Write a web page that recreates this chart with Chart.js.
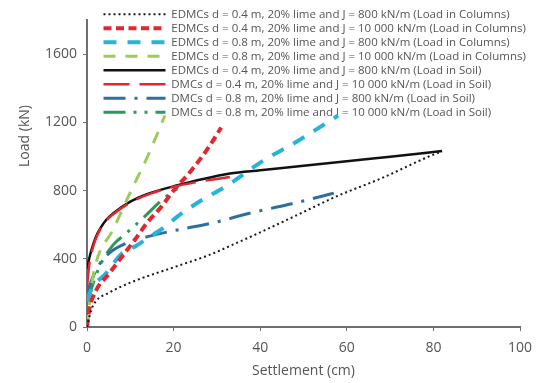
<!DOCTYPE html>
<html>
<head>
<meta charset="utf-8">
<title>Load - settlement</title>
<script src="https://cdn.jsdelivr.net/npm/chart.js@4.4.1/dist/chart.umd.min.js"></script>
<style>
  html, body { margin: 0; padding: 0; background: #fff; }
  #wrap { width: 544px; height: 383px; }
</style>
</head>
<body>
<div id="wrap"><canvas id="chart" width="544" height="383"></canvas></div>
<script>
// settlement (cm) / load (kN) pairs for each test
const edmc04J800ColX = [0, 1, 2, 5, 10, 20, 28, 33, 40, 48, 58, 68, 79, 82];
const edmc04J800ColY = [0, 100, 150, 200, 260, 350, 420, 475, 555, 650, 770, 872, 1000, 1030];

const edmc04J10kColX = [0, 0.5, 2, 5, 8, 11, 14, 17, 20, 24, 28, 31];
const edmc04J10kColY = [0, 97, 210, 310, 410, 510, 615, 700, 800, 915, 1050, 1170];

const edmc08J800ColX = [0, 1, 4.4, 8, 11.3, 14, 18, 21, 25, 33, 41, 48, 58];
const edmc08J800ColY = [150, 220, 315, 430, 475, 520, 587, 650, 720, 840, 980, 1080, 1240];

const edmc08J10kColX = [0, 1, 2, 6, 10, 14, 18];
const edmc08J10kColY = [0, 230, 370, 570, 790, 1000, 1240];

const edmc04J800SoilX = [0, 0.5, 1, 2, 3, 4.5, 6, 10, 14, 20, 33, 40, 50, 60, 70, 82];
const edmc04J800SoilY = [340, 400, 450, 525, 575, 630, 665, 735, 780, 825, 900, 919, 945, 972, 998, 1032];

const dmc04J10kSoilX = [0, 0.5, 1, 2, 3, 4.5, 6, 10, 15, 20, 25, 33];
const dmc04J10kSoilY = [230, 360, 430, 515, 570, 625, 660, 730, 785, 822, 848, 880];

const dmc08J800SoilX = [0, 2, 5, 9, 14, 22, 29, 38, 46, 54, 57];
const dmc08J800SoilY = [200, 330, 430, 490, 530, 575, 610, 670, 715, 765, 785];

const dmc08J10kSoilX = [0, 3, 6, 9, 13, 18, 22];
const dmc08J10kSoilY = [150, 360, 480, 548, 640, 760, 830];

const seriesLabels = [
  'EDMCs d = 0.4 m, 20% lime and J = 800 kN/m (Load in Columns)',
  'EDMCs d = 0.4 m, 20% lime and J = 10 000 kN/m (Load in Columns)',
  'EDMCs d = 0.8 m, 20% lime and J = 800 kN/m (Load in Columns)',
  'EDMCs d = 0.8 m, 20% lime and J = 10 000 kN/m (Load in Columns)',
  'EDMCs d = 0.4 m, 20% lime and J = 800 kN/m (Load in Soil)',
  'DMCs d = 0.4 m, 20% lime and J = 10 000 kN/m (Load in Soil)',
  'DMCs d = 0.8 m, 20% lime and J = 800 kN/m (Load in Soil)',
  'DMCs d = 0.8 m, 20% lime and J = 10 000 kN/m (Load in Soil)',
];

const xTitle = 'Settlement (cm)';
const yTitle = 'Load (kN)';

const toPoints = (xs, ys) => xs.map((x, i) => ({ x, y: ys[i] }));

// the solid black curve sits under the others (order 1)
const series = [
  { xs: edmc04J800ColX, ys: edmc04J800ColY, color: '#1a1a1a', width: 2, dash: [2, 3], order: 0 },
  { xs: edmc04J10kColX, ys: edmc04J10kColY, color: '#e3262f', width: 4, dash: [8, 4.5], order: 0 },
  { xs: edmc08J800ColX, ys: edmc08J800ColY, color: '#29b3d8', width: 4, dash: [13, 11], order: 0 },
  { xs: edmc08J10kColX, ys: edmc08J10kColY, color: '#9ccb5c', width: 3, dash: [12, 10], order: 0 },
  { xs: edmc04J800SoilX, ys: edmc04J800SoilY, color: '#111111', width: 2.5, dash: [], order: 1 },
  { xs: dmc04J10kSoilX, ys: dmc04J10kSoilY, color: '#e3262f', width: 2.5, dash: [26, 10], order: 0 },
  { xs: dmc08J800SoilX, ys: dmc08J800SoilY, color: '#2d6f9f', width: 3, dash: [22, 9, 3, 9], order: 0 },
  { xs: dmc08J10kSoilX, ys: dmc08J10kSoilY, color: '#2b9a56', width: 3, dash: [22, 8, 3, 8, 3, 8], order: 0 },
];

const datasets = series.map((s, i) => ({
  label: seriesLabels[i],
  data: toPoints(s.xs, s.ys),
  borderColor: s.color,
  backgroundColor: s.color,
  borderWidth: s.width,
  borderDash: s.dash,
  order: s.order,
  pointRadius: 0,
  fill: false,
  cubicInterpolationMode: 'monotone',
}));

// legend sits over the top of the plot, left aligned a bit past the y axis
const legendPlacement = {
  id: 'legendPlacement',
  afterLayout(chart) {
    const lg = chart.legend;
    lg.left = 101;
    lg.top = 6;
    lg.right = 544;
    lg.bottom = chart.chartArea.bottom;
  },
};

// y axis title, drawn a little above the axis middle
const yAxisTitle = {
  id: 'yAxisTitle',
  afterDraw(chart) {
    const ctx = chart.ctx;
    ctx.save();
    ctx.translate(25, 136);
    ctx.rotate(-Math.PI / 2);
    ctx.font = '14px "Open Sans"';
    ctx.fillStyle = '#555';
    ctx.textAlign = 'center';
    ctx.textBaseline = 'middle';
    ctx.fillText(yTitle, 0, 0);
    ctx.restore();
  },
};

const axisColor = '#707070';
const tickFont = { family: 'Open Sans', size: 14 };

new Chart(document.getElementById('chart'), {
  type: 'line',
  data: { datasets },
  plugins: [legendPlacement, yAxisTitle],
  options: {
    responsive: false,
    animation: false,
    layout: { padding: { top: 20, right: 24, left: 0, bottom: 0 } },
    plugins: {
      tooltip: { enabled: false },
      legend: {
        position: 'chartArea',
        align: 'start',
        labels: {
          usePointStyle: true,
          pointStyle: 'line',
          pointStyleWidth: 62,
          boxWidth: 62,
          boxHeight: 10,
          padding: 2.5,
          color: '#555',
          font: { family: 'Open Sans', size: 11.5 },
          // keep dataset order and carry the dash pattern into the samples
          generateLabels: (chart) => chart.data.datasets.map((ds, i) => ({
            text: ds.label,
            strokeStyle: ds.borderColor,
            fillStyle: ds.borderColor,
            lineWidth: ds.borderWidth,
            lineDash: ds.borderDash,
            pointStyle: 'line',
            fontColor: '#555',
            hidden: false,
            datasetIndex: i,
          })),
        },
      },
    },
    scales: {
      x: {
        type: 'linear',
        min: 0,
        max: 100,
        afterFit: (scale) => { scale.height = 56; },
        ticks: { stepSize: 20, color: '#555', font: tickFont, padding: 9 },
        grid: { drawOnChartArea: false, tickLength: 4, color: axisColor },
        border: { color: axisColor, width: 2 },
        title: { display: true, text: xTitle, color: '#555', font: { family: 'Open Sans', size: 14 }, padding: { top: 0, bottom: 4 } },
      },
      y: {
        type: 'linear',
        min: 0,
        max: 1800,
        afterFit: (scale) => { scale.width = 87; },
        ticks: {
          stepSize: 400,
          includeBounds: false,
          color: '#555',
          font: tickFont,
          padding: 6,
          callback: (v) => String(v),
        },
        grid: { drawOnChartArea: false, tickLength: 4, color: axisColor },
        border: { color: axisColor, width: 2 },
      },
    },
  },
});
</script>
</body>
</html>
